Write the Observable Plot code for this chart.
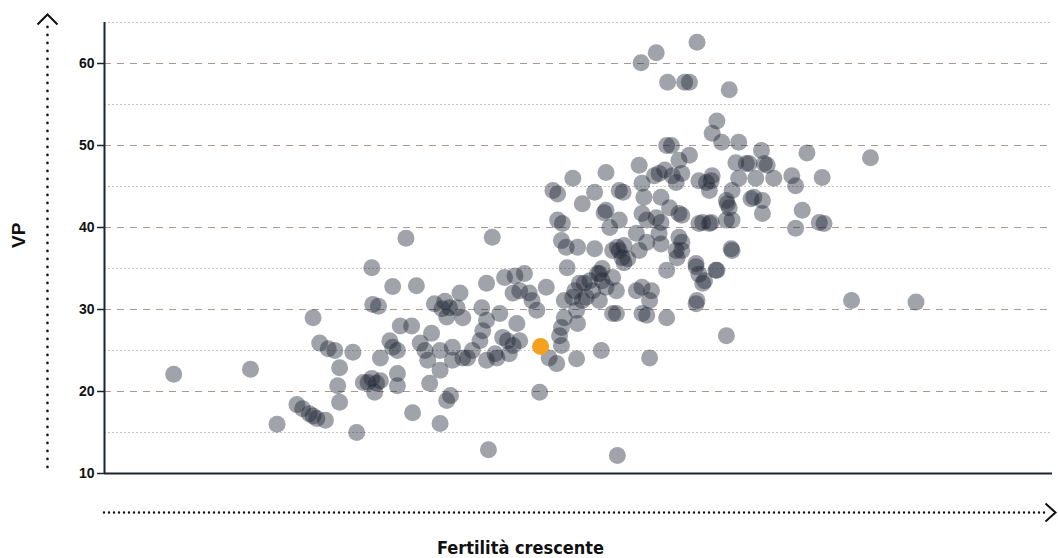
<!DOCTYPE html>
<html>
<head>
<meta charset="utf-8">
<script src="https://cdn.jsdelivr.net/npm/d3@7"></script>
<script src="https://cdn.jsdelivr.net/npm/@observablehq/plot@0.6"></script>
<style>
  html, body { margin: 0; padding: 0; background: #ffffff; }
  #chart { width: 1058px; height: 558px; }
</style>
</head>
<body>
<div id="chart"></div>
<script>
// ---- Data ----
const xLabel = "Fertilità crescente";
const yLabel = "VP";
const majorTicks = [10, 20, 30, 40, 50, 60];
const minorTicks = [15, 25, 35, 45, 55, 65];

// fertility index (arbitrary 0-100 scale, no ticks shown)
const fertility = [
  7.3, 15.4, 18.2, 20.3, 20.9, 21.6, 22.0, 22.4, 23.3, 22.0,
  22.7, 23.6, 24.3, 24.8, 24.6, 24.8, 26.2, 26.6, 28.2, 28.3,
  28.9, 30.4, 32.9, 31.8, 27.3, 27.8, 28.2, 28.7, 29.1, 28.5,
  29.1, 30.1, 30.4, 30.9, 31.2, 32.4, 30.9, 30.9, 32.5, 33.3,
  33.8, 34.1, 34.5, 34.3, 34.8, 35.6, 35.4, 36.1, 35.4, 35.4,
  36.5, 37.5, 37.2, 37.8, 36.4, 36.7, 36.7, 37.8, 38.8, 40.3,
  41.2, 39.6, 39.9, 40.3, 39.8, 40.3, 41.7, 42.2, 43.3, 44.3,
  43.1, 43.8, 44.8, 46.6, 45.6, 43.5, 42.0, 42.5, 43.8, 42.7,
  41.4, 38.3, 40.5, 40.9, 45.9, 48.0, 48.2, 47.7, 49.8, 52.4,
  46.9, 48.2, 54.1, 57.5, 54.0, 57.2, 59.3, 62.4, 62.4, 62.7,
  64.5, 63.3, 66.1, 65.6, 62.5, 78.8, 85.6,
  47.3, 47.8, 49.4, 50.4, 51.7, 52.9, 52.9, 54.3, 54.7, 52.7,
  54.3, 53.3, 47.8, 48.3, 48.2, 48.7, 49.9, 51.7, 48.8, 50.1,
  51.2, 52.2, 52.9, 53.6, 53.6, 50.8, 49.4, 48.5, 49.8, 49.9,
  48.5, 53.6, 51.5, 52.2, 50.4, 54.3, 54.6, 54.1, 54.8, 55.2,
  54.8, 56.4, 56.1, 57.2, 58.5, 58.7, 60.6, 60.9, 60.3, 60.4,
  59.3, 62.4, 63.1, 64.6, 66.2, 52.0, 52.5, 54.0, 56.1, 56.7,
  57.7, 57.5, 56.7, 52.5, 49.6, 50.6,
  56.4, 56.7, 56.9, 58.7, 56.7, 57.2, 58.2, 58.7, 59.6, 60.6,
  58.0, 59.1, 59.9, 60.9, 58.5, 60.3, 62.7, 63.5, 64.1, 59.3,
  59.8, 61.7, 60.6, 62.7, 63.8, 65.6, 66.2, 65.6, 65.9, 68.5,
  69.4, 69.4, 63.1, 64.0, 60.9, 60.9, 64.0, 63.8, 66.2, 65.7,
  66.9, 68.7, 70.6, 69.9, 68.0, 69.6, 67.7, 66.6, 69.3, 66.9,
  65.1, 64.1, 64.6, 65.9, 59.4, 61.2, 61.7, 56.6, 58.2, 62.5,
  74.1, 80.8, 75.7, 72.5, 72.9, 73.6, 75.4, 75.9, 72.9, 68.2,
  35.9, 36.1, 43.1, 45.1
];

// VP values
const vp = [
  22.1, 22.7, 16.0, 18.4, 17.9, 17.3, 17.0, 16.7, 16.5, 29.0,
  25.9, 25.2, 25.0, 22.9, 20.7, 18.7, 24.8, 15.0, 35.1, 30.6,
  30.4, 32.8, 32.9, 38.7, 21.1, 21.1, 21.6, 21.0, 21.3, 19.9,
  24.1, 26.2, 25.4, 25.0, 28.0, 28.0, 22.2, 20.7, 17.4, 25.9,
  25.0, 23.8, 27.1, 21.0, 30.7, 30.1, 16.1, 18.9, 25.0, 22.6,
  19.5, 32.0, 30.2, 29.0, 30.2, 25.4, 23.8, 24.1, 25.0, 23.8,
  24.6, 26.2, 27.4, 28.7, 30.2, 33.2, 29.5, 33.9, 34.1, 34.4,
  32.0, 32.3, 32.0, 32.7, 29.9, 28.3, 26.6, 26.2, 26.2, 24.6,
  24.1, 24.1, 12.9, 38.8, 19.9, 26.8, 27.8, 23.4, 24.0, 25.0,
  24.1, 25.6, 12.2, 24.1, 29.5, 29.3, 29.0, 30.7, 35.2, 34.3,
  34.8, 33.5, 37.4, 26.8, 31.1, 31.1, 30.9,
  44.5, 44.1, 46.0, 42.9, 44.3, 46.7, 42.1, 44.5, 44.3, 41.8,
  40.9, 40.0, 40.9, 40.5, 38.4, 37.6, 37.6, 37.4, 35.1, 33.2,
  33.5, 34.4, 32.7, 33.9, 37.2, 31.5, 31.5, 31.1, 29.9, 28.3,
  29.0, 29.5, 32.3, 31.1, 31.1, 37.2, 36.3, 37.6, 37.8, 36.2,
  35.7, 37.2, 39.3, 38.2, 39.3, 38.0, 38.8, 38.2, 37.2, 36.3,
  34.8, 35.6, 33.2, 34.8, 37.2, 34.4, 33.5, 32.3, 32.3, 32.7,
  32.3, 31.1, 29.5, 35.0, 32.3, 33.2,
  47.6, 45.4, 43.7, 43.7, 41.7, 40.9, 41.2, 40.6, 42.4, 41.7,
  46.3, 47.0, 46.3, 46.6, 46.6, 45.5, 45.7, 45.5, 46.3, 50.0,
  50.0, 48.8, 48.2, 40.5, 40.5, 40.9, 40.9, 43.3, 42.4, 43.7,
  43.3, 41.7, 40.6, 40.6, 41.5, 37.2, 45.7, 44.5, 44.5, 42.9,
  46.0, 46.0, 46.0, 47.6, 47.8, 47.8, 47.8, 47.9, 49.4, 50.4,
  50.4, 51.5, 53.0, 56.8, 57.7, 57.7, 57.7, 60.1, 61.3, 62.6,
  49.1, 48.5, 46.1, 46.3, 45.1, 42.1, 40.6, 40.5, 39.9, 43.5,
  31.0, 29.1, 25.6, 31.1
];

// highlighted observation (orange)
const highlightFertility = [46.0];
const highlightVP = [25.5];

// ---- Build tables ----
const points = fertility.map((f, i) => ({f, v: vp[i]}));
const highlight = highlightFertility.map((f, i) => ({f, v: highlightVP[i]}));

// chevron symbols for the axis arrows
const chevronUp = {draw(ctx) { ctx.moveTo(-10, 5); ctx.lineTo(0, -5); ctx.lineTo(10, 5); }};
const chevronRight = {draw(ctx) { ctx.moveTo(-5, -9); ctx.lineTo(5, 0); ctx.lineTo(-5, 9); }};

const ink = "#1b2230";

const chart = Plot.plot({
  width: 1058,
  height: 558,
  marginLeft: 104,
  marginRight: 6,
  marginTop: 22,
  marginBottom: 85,
  style: {fontFamily: "'Liberation Sans', Arial, sans-serif", background: "#ffffff", color: "#111"},
  x: {domain: [0, 100], axis: null},
  y: {domain: [10, 65]},
  marks: [
    // minor gridlines (dotted)
    Plot.ruleY(minorTicks, {stroke: "#cdc2bd", strokeWidth: 1, strokeDasharray: "2,2"}),
    // major gridlines (dashed)
    Plot.ruleY(majorTicks, {stroke: "#ab9893", strokeWidth: 1.2, strokeDasharray: "7,6"}),
    // y axis
    Plot.axisY(majorTicks, {tickSize: 7, tickPadding: 3, fontSize: 14, fontWeight: "bold", label: null, stroke: ink, strokeWidth: 1.5}),
    // frame axis lines
    Plot.ruleX([0], {y1: 10, y2: 65, stroke: ink, strokeWidth: 2}),
    Plot.ruleY([10], {x1: 0, x2: 100, stroke: ink, strokeWidth: 2}),
    // scatter points
    Plot.dot(points, {x: "f", y: "v", r: 8.5, fill: "#1c2333", fillOpacity: 0.42}),
    Plot.dot(highlight, {x: "f", y: "v", r: 8.5, fill: "#f5a01e"}),
    // dotted arrows
    Plot.ruleX([0], {y1: 64.4, y2: 10, dx: -57, stroke: "#111", strokeWidth: 2.6, strokeDasharray: "0,8", strokeLinecap: "round"}),
    Plot.dot([0], {x: d => d, y: () => 65, dx: -57, dy: -3, symbol: chevronUp, fill: "none", stroke: "#111", strokeWidth: 2}),
    Plot.ruleY([10], {x1: 0, x2: 99.3, dy: 39, stroke: "#111", strokeWidth: 2.4, strokeDasharray: "0,5", strokeLinecap: "round"}),
    Plot.dot([100], {x: d => d, y: () => 10, dx: -2, dy: 39, symbol: chevronRight, fill: "none", stroke: "#111", strokeWidth: 2}),
    // axis titles
    Plot.text([yLabel], {frameAnchor: "left", dx: -86, rotate: -90, fontSize: 19, fontWeight: "bold", fill: "#111"}),
    Plot.text([xLabel], {frameAnchor: "bottom", dx: -58, dy: 75, lineAnchor: "middle", fontSize: 18, fontWeight: "bold", fill: "#111",
      fontFamily: "'Liberation Sans Narrow', 'DejaVu Sans Condensed', 'Roboto Condensed', sans-serif"})
  ]
});

document.getElementById("chart").appendChild(chart);
</script>
</body>
</html>
